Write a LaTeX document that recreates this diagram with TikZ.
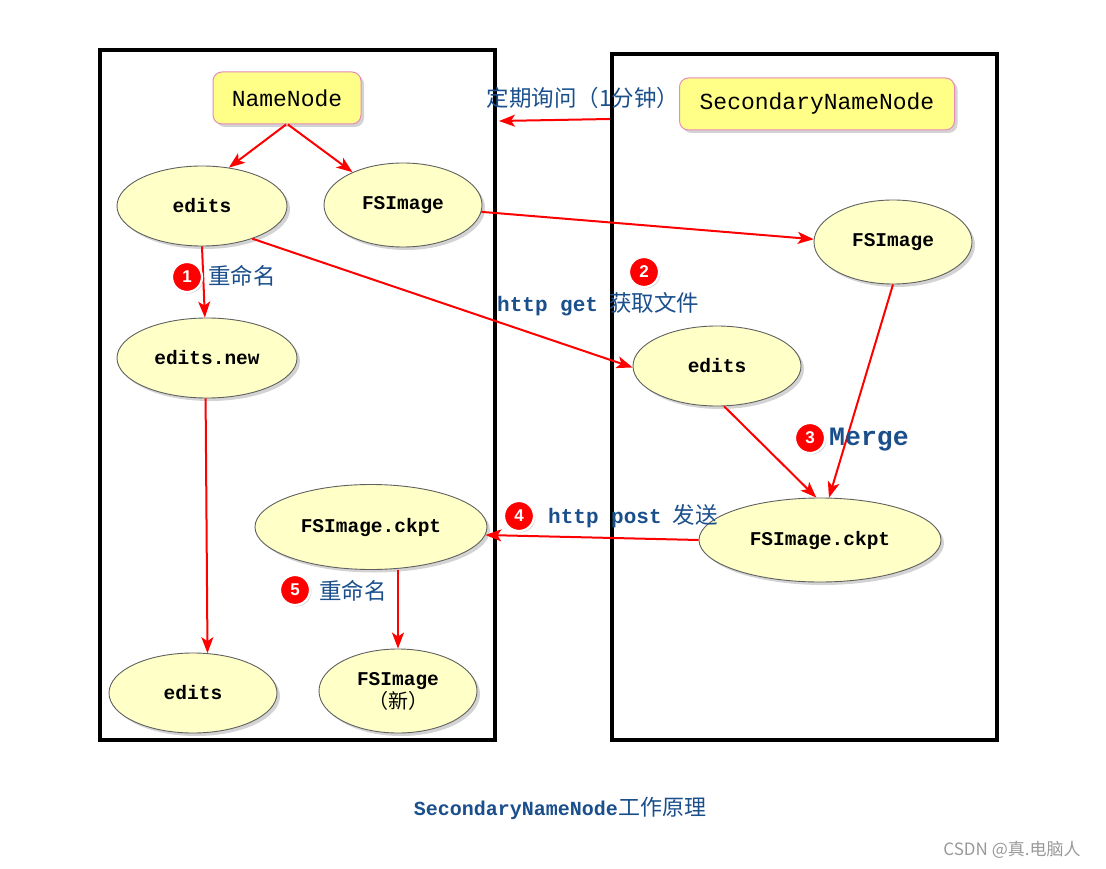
\documentclass[tikz,border=0pt]{standalone}
\usepackage{fontspec}
\setmonofont{Liberation Mono}
\setsansfont{Liberation Sans}
\newfontfamily\cjk{Noto Sans CJK SC}
\usetikzlibrary{shapes.geometric,shadows,arrows.meta}
\definecolor{boxyellow}{HTML}{FFFF88}
\definecolor{boxpink}{HTML}{E68AB8}
\definecolor{ellfill}{HTML}{FFFFC8}
\definecolor{ellline}{HTML}{606060}
\definecolor{lblblue}{HTML}{1A4F8C}
\definecolor{arrred}{HTML}{FF0000}
\tikzset{
  frame/.style={draw=black,line width=4pt,fill=none},
  namebox/.style={draw=boxpink,fill=boxyellow,rounded corners=9pt,line width=1pt,
    inner sep=0pt,drop shadow={shadow xshift=3pt,shadow yshift=-3pt,opacity=0.35},
    font=\ttfamily\fontsize{23}{27}\selectfont},
  ell/.style={ellipse,draw=ellline,fill=ellfill,line width=0.9pt,inner sep=0pt,
    drop shadow={shadow xshift=3pt,shadow yshift=-3pt,opacity=0.35},
    font=\ttfamily\bfseries\fontsize{19.5}{22}\selectfont,align=center},
  conn/.style={draw=arrred,line width=2pt,-{Stealth[length=16pt,width=12pt,inset=4pt]}},
  badge/.style={circle,fill=arrred,draw=white,line width=2.2pt,minimum size=30pt,inner sep=0pt,
    text=white,font=\sffamily\bfseries\fontsize{17}{19}\selectfont,
    drop shadow={shadow xshift=1.5pt,shadow yshift=-1.5pt,opacity=0.3}},
  lbl/.style={text=lblblue,inner sep=0pt,font=\cjk\fontsize{22.5}{26}\selectfont},
  lblmono/.style={text=lblblue,inner sep=0pt,font=\ttfamily\bfseries\fontsize{21}{25}\selectfont},
}
\begin{document}
\begin{tikzpicture}[x=1pt,y=-1pt]
\useasboundingbox (0,0) rectangle (1106,869);
% frames
\draw[frame] (100,50) rectangle (495,740);
\draw[frame] (612,54) rectangle (997,740);
% boxes
\node[namebox,minimum width=148pt,minimum height=52pt] (nn) at (287,98) {NameNode};
\node[namebox,minimum width=275pt,minimum height=52pt] (snn) at (817,104) {SecondaryNameNode};
% ellipses
\node[ell,minimum width=170pt,minimum height=80pt] (e1) at (202,206) {edits};
\node[ell,minimum width=158pt,minimum height=84pt] (f1) at (403,205) {FSImage};
\node[ell,minimum width=158pt,minimum height=84pt] (f2) at (893,242) {FSImage};
\node[ell,minimum width=180pt,minimum height=80pt] (en) at (207,358) {edits.new};
\node[ell,minimum width=168pt,minimum height=80pt] (e2) at (717,366) {edits};
\node[ell,minimum width=232pt,minimum height=85pt] (c1) at (371,527) {FSImage.ckpt};
\node[ell,minimum width=242pt,minimum height=84pt] (c2) at (820,540) {FSImage.ckpt};
\node[ell,minimum width=168pt,minimum height=80pt] (eb) at (193,693) {edits};
\node[ell,minimum width=158pt,minimum height=84pt] (fn) at (398,691) {FSImage\\[1pt]{\cjk\mdseries\fontsize{20}{22}\selectfont（新）}};
% connectors
\coordinate (qs) at (610,119);
\coordinate (qe) at (499,121);
\draw[conn] (nn.-92) -- (e1.55);
\draw[conn] (nn.-88) -- (f1.147);
\draw[conn] (qs) -- (qe);
\draw[conn] (f1.-5) -- (f2.178);
\draw[conn] (e1.-33) -- (e2.181);
\draw[conn] (e1.south) -- (en.93);
\draw[conn] (en.-92) -- (eb.70);
\draw[conn] (f2.south) -- (c2.78);
\draw[conn] (e2.-80) -- (c2.95);
\draw[conn] (c2.west) -- (c1.-4);
\draw[conn] (fn.north |- c1.south) -- (fn.north);
% labels
\node[lbl] (lq) at (583,98) {定期询问（1分钟）};
\node[badge] (b1) at (187,277) {1};
\node[lbl,anchor=west] (l1) at (208,276) {重命名};
\node[badge] (b2) at (644,272) {2};
\node[anchor=west,inner sep=0pt] (l2) at (497,304) {\textcolor{lblblue}{\ttfamily\bfseries\fontsize{21}{25}\selectfont http get}\hspace{11pt}\textcolor{lblblue}{\cjk\fontsize{22.5}{26}\selectfont 获取文件}};
\node[badge] (b3) at (810,438) {3};
\node[lblmono,anchor=west,font=\ttfamily\bfseries\fontsize{26.5}{30}\selectfont] (l3) at (829,440) {Merge};
\node[badge] (b4) at (519,516) {4};
\node[anchor=west,inner sep=0pt] (l4) at (548,516) {\textcolor{lblblue}{\ttfamily\bfseries\fontsize{21}{25}\selectfont http post}\hspace{11pt}\textcolor{lblblue}{\cjk\fontsize{22.5}{26}\selectfont 发送}};
\node[badge] (b5) at (295,590) {5};
\node[lbl,anchor=west] (l5) at (319,591) {重命名};
\node[inner sep=0pt] (cap) at (560,808) {\textcolor{lblblue}{\ttfamily\bfseries\fontsize{20}{24}\selectfont SecondaryNameNode}\textcolor{lblblue}{\cjk\fontsize{22}{26}\selectfont 工作原理}};
\node[inner sep=0pt,text=gray!80,font=\cjk\fontsize{17}{20}\selectfont] (wm) at (1012,850) {CSDN @真.电脑人};
\end{tikzpicture}
\end{document}
